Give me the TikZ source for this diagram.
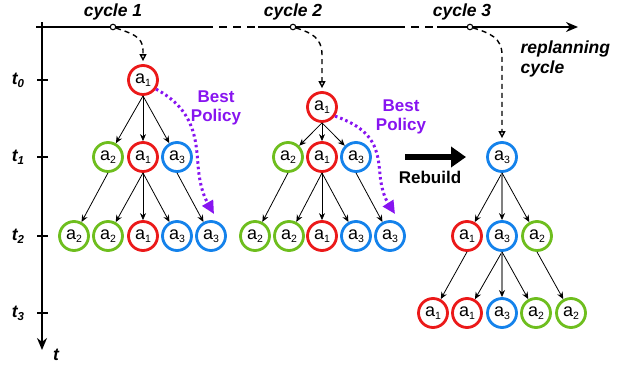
\documentclass[tikz,border=0pt]{standalone}
\usepackage{fontspec}
\setmainfont{Liberation Sans}
\usetikzlibrary{arrows.meta}
\definecolor{cred}{RGB}{235,25,25}
\definecolor{cgreen}{RGB}{110,190,30}
\definecolor{cblue}{RGB}{20,130,235}
\definecolor{cpurple}{RGB}{135,20,240}
\newcommand\ai[1]{a\raisebox{-2.5pt}{\fontsize{10.5}{10.5}\selectfont #1}}
\newcommand\tsub[2]{\textbf{\textit{#1\raisebox{-3pt}{\fontsize{11.5}{11.5}\selectfont #2}}}}
\tikzset{
  act/.style={circle,draw,line width=2.8pt,minimum size=29pt,inner sep=0pt,fill=white,font=\fontsize{18}{18}\selectfont},
  ra/.style={act,draw=cred},
  ga/.style={act,draw=cgreen},
  ba/.style={act,draw=cblue},
  edge/.style={line width=0.8pt,-{Stealth[length=7pt,width=6pt]}},
  gedge/.style={line width=1.6pt,draw=gray,-{Stealth[length=7pt,width=6pt,color=black]}},
  axis/.style={line width=1.9pt},
  lbl/.style={font=\fontsize{17.5}{20}\selectfont\bfseries\itshape},
  cyc/.style={circle,draw,line width=1.1pt,minimum size=5.5pt,inner sep=0pt,fill=white},
  dcurve/.style={line width=1.4pt,dash pattern=on 5pt off 4pt,-{Triangle[open,length=7pt,width=7pt]},shorten >=3pt},
  bestp/.style={line width=3pt,draw=cpurple,dash pattern=on 2.5pt off 3pt,-{Triangle[length=13pt,width=12pt,fill=cpurple]}},
  bptext/.style={font=\fontsize{17}{19.5}\selectfont\bfseries,text=cpurple,align=center},
}
\begin{document}
\begin{tikzpicture}[x=1pt,y=-1pt]
\useasboundingbox (0,0) rectangle (626,364);
% axes
\coordinate (h0) at (36,27);
\coordinate (h1) at (205,27);
\coordinate (h2) at (258,27);
\coordinate (h3) at (397,27);
\coordinate (h4) at (437,27);
\coordinate (h5) at (578,27);
\draw[axis] (h0) -- (h1);
\draw[axis,dash pattern=on 8pt off 6pt] (h1) -- (h2);
\draw[axis] (h2) -- (h3);
\draw[axis,dash pattern=on 8pt off 6pt] (h3) -- (h4);
\draw[axis,-{Stealth[length=12pt,width=10pt]}] (h4) -- (h5);
\coordinate (v0) at (42,22);
\coordinate (v1) at (42,350);
\draw[axis,-{Stealth[length=12pt,width=10pt]}] (v0) -- (v1);
% ticks
\foreach \y/\n in {80/0,157/1,236/2,313/3}{
  \coordinate (tl\n) at (37,\y);
  \coordinate (tr\n) at (48,\y);
  \draw[line width=1.6pt] (tl\n) -- (tr\n);
}
\node[lbl] (lt0) at (18,80) {\tsub{t}{0}};
\node[lbl] (lt1) at (18,157) {\tsub{t}{1}};
\node[lbl] (lt2) at (18,236) {\tsub{t}{2}};
\node[lbl] (lt3) at (18,313) {\tsub{t}{3}};
\node[lbl] (lt) at (56,355) {t};
\node[lbl] (cl1) at (113,12) {cycle 1};
\node[lbl] (cl2) at (293,12) {cycle 2};
\node[lbl] (cl3) at (462,12) {cycle 3};
\node[lbl,align=left,anchor=west] (rp) at (517,59) {replanning\\cycle};

% tree 1
\node[ra] (r1) at (143,80) {\ai1};
\node[ga] (a1l) at (108,157) {\ai2};
\node[ra] (a1m) at (143,157) {\ai1};
\node[ba] (a1r) at (177,157) {\ai3};
\node[ga] (b1a) at (74,236) {\ai2};
\node[ga] (b1b) at (108,236) {\ai2};
\node[ra] (b1c) at (143,236) {\ai1};
\node[ba] (b1d) at (177,236) {\ai3};
\node[ba] (b1e) at (211,236) {\ai3};
\foreach \c in {a1l,a1m,a1r} \draw[edge] (r1.south) -- (\c);
\draw[edge] (a1l.south) -- (b1a);
\foreach \c in {b1b,b1c,b1d} \draw[edge] (a1m.south) -- (\c);
\draw[edge] (a1r.south) -- (b1e);

% tree 2
\node[ra] (r2) at (322,107) {\ai1};
\node[ga] (a2l) at (288,157) {\ai2};
\node[ra] (a2m) at (322,157) {\ai1};
\node[ba] (a2r) at (356,157) {\ai3};
\node[ga] (b2a) at (255,236) {\ai2};
\node[ga] (b2b) at (289,236) {\ai2};
\node[ra] (b2c) at (322,236) {\ai1};
\node[ba] (b2d) at (356,236) {\ai3};
\node[ba] (b2e) at (390,236) {\ai3};
\foreach \c in {a2l,a2m,a2r} \draw[edge] (r2.south) -- (\c);
\draw[edge] (a2l.south) -- (b2a);
\foreach \c in {b2b,b2c,b2d} \draw[edge] (a2m.south) -- (\c);
\draw[edge] (a2r.south) -- (b2e);

% tree 3
\node[ba] (r3) at (502,157) {\ai3};
\node[ra] (a3l) at (467,236) {\ai1};
\node[ba] (a3m) at (502,236) {\ai3};
\node[ga] (a3r) at (537,236) {\ai2};
\node[ra] (b3a) at (433,313) {\ai1};
\node[ra] (b3b) at (467,313) {\ai1};
\node[ba] (b3c) at (502,313) {\ai3};
\node[ga] (b3d) at (536,313) {\ai2};
\node[ga] (b3e) at (571,313) {\ai2};
\draw[edge] (r3.south) -- (a3l);
\draw[gedge] (r3.south) -- (a3m);
\draw[edge] (r3.south) -- (a3r);
\draw[edge] (a3l.south) -- (b3a);
\draw[edge] (a3m.south) -- (b3b);
\draw[gedge] (a3m.south) -- (b3c);
\draw[edge] (a3m.south) -- (b3d);
\draw[edge] (a3r.south) -- (b3e);

% cycle marks and dashed curves
\node[cyc] (c1) at (113,27) {};
\node[cyc] (c2) at (293,27) {};
\node[cyc] (c3) at (470,27) {};
\draw[dcurve] (c1) .. controls (130,33) and (143,36) .. (143,50) -- (r1);
\draw[dcurve] (c2) .. controls (312,33) and (322,38) .. (322,55) -- (r2);
\draw[dcurve] (c3) .. controls (490,33) and (502,38) .. (502,55) -- (r3);

% best policy
\coordinate (bp1) at (214,214);
\coordinate (bp2) at (395,214);
\draw[bestp] (r1.-35) .. controls (195,110) and (196,140) .. (198,165) .. controls (200,190) and (206,200) .. (bp1);
\draw[bestp] (r2.-35) .. controls (375,130) and (378,150) .. (380,175) .. controls (382,195) and (388,203) .. (bp2);
\node[bptext] (bpt1) at (216,108) {Best\\Policy};
\node[bptext] (bpt2) at (401,117) {Best\\Policy};

% rebuild
\coordinate (rb0) at (405,157);
\coordinate (rb1) at (466,157);
\draw[line width=6.5pt,-{Triangle[length=15pt,width=20pt]}] (rb0) -- (rb1);
\node[font=\fontsize{17}{19}\selectfont\bfseries] (rbt) at (430,177) {Rebuild};
\end{tikzpicture}
\end{document}
